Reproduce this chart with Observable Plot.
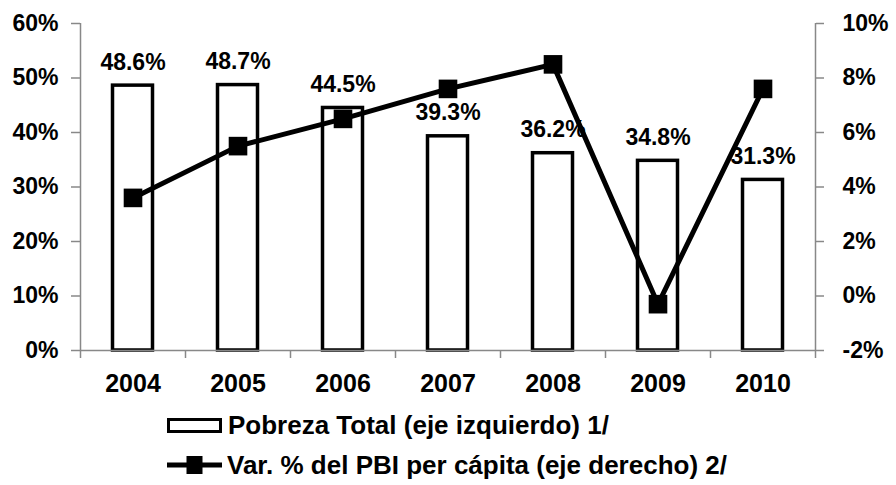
<!DOCTYPE html>
<html>
<head>
<meta charset="utf-8">
<script src="https://cdn.jsdelivr.net/npm/d3@7"></script>
<script src="https://cdn.jsdelivr.net/npm/@observablehq/plot@0.6"></script>
<style>
  html, body { margin: 0; padding: 0; background: #fff; }
  body { font-family: "Liberation Sans", Arial, sans-serif; font-weight: bold; color: #000; width: 896px; }
  #chart svg { display: block; }
  #legend { padding-left: 167px; }
  .row { height: 40px; display: flex; align-items: center; font-size: 26px; font-weight: bold; white-space: nowrap; }
  .box { display: inline-block; width: 49px; height: 9px; border: 3px solid #000; background: #fff; margin-right: 6px; }
  .sym { margin-right: 5px; display: block; }
</style>
</head>
<body>
<div id="chart"></div>
<div id="legend"></div>
<script>
// ---- data ----
const years = ["2004", "2005", "2006", "2007", "2008", "2009", "2010"];
const poverty = [48.6, 48.7, 44.5, 39.3, 36.2, 34.8, 31.3];          // % (left axis)
const gdpPerCapita = [3.6, 5.5, 6.5, 7.6, 8.5, -0.3, 7.6];           // % (right axis)
const leftTicks = [0, 10, 20, 30, 40, 50, 60];
const rightTicks = [-2, 0, 2, 4, 6, 8, 10];
const seriesNames = ["Pobreza Total (eje izquierdo) 1/", "Var. % del PBI per cápita (eje derecho) 2/"];

const rows = years.map((year, i) => ({ year, poverty: poverty[i], gdp: gdpPerCapita[i] }));

const lMin = leftTicks[0], lMax = leftTicks[leftTicks.length - 1];
const rMin = rightTicks[0], rMax = rightTicks[rightTicks.length - 1];
const toLeft = v => (v - rMin) / (rMax - rMin) * (lMax - lMin) + lMin;
const toRight = v => (v - lMin) / (lMax - lMin) * (rMax - rMin) + rMin;

const W = 896, H = 405, ML = 80, MR = 81, MT = 23, MB = 55;
const half = (W - ML - MR) / years.length / 2;
const grey = "#888";
const font = { fontFamily: "Liberation Sans, Arial, sans-serif", fontWeight: "bold" };

const chart = Plot.plot({
  width: W, height: H,
  marginLeft: ML, marginRight: MR, marginTop: MT, marginBottom: MB,
  style: { fontFamily: font.fontFamily, fontWeight: "bold", color: "#000", background: "#fff", overflow: "visible" },
  x: { domain: years, padding: 0 },
  y: { domain: [lMin, lMax] },
  marks: [
    Plot.barY(rows, { x: "year", y: "poverty", fill: "white", stroke: "black", strokeWidth: 3.5, insetLeft: 32.5, insetRight: 32.5 }),
    // axis lines
    Plot.ruleY([lMin], { stroke: grey, strokeWidth: 1.5 }),
    Plot.ruleX([years[0]], { dx: -half, y1: lMin, y2: lMax, stroke: grey, strokeWidth: 1.5 }),
    Plot.ruleX([years[years.length - 1]], { dx: half, y1: lMin, y2: lMax, stroke: grey, strokeWidth: 1.5 }),
    // category boundary ticks
    Plot.ruleX(years, { dx: -half, y1: () => lMin, y2: () => lMin, insetBottom: -8, stroke: grey, strokeWidth: 1.5 }),
    Plot.ruleX([years[years.length - 1]], { dx: half, y1: () => lMin, y2: () => lMin, insetBottom: -8, stroke: grey, strokeWidth: 1.5 }),
    Plot.axisY(leftTicks, { anchor: "left", tickFormat: d => d + "%", tickSize: 9, tickPadding: 13, stroke: grey, strokeWidth: 1.5, fill: "black", fontSize: 23, fontWeight: "bold", label: null }),
    Plot.axisY(rightTicks.map(toLeft), { anchor: "right", tickFormat: d => Math.round(toRight(d)) + "%", tickSize: 8, tickPadding: 19, stroke: grey, strokeWidth: 1.5, fill: "black", fontSize: 23, fontWeight: "bold", label: null }),
    Plot.axisX({ tickSize: 0, tickPadding: 24, fontSize: 25, fontWeight: "bold", fill: "black", label: null }),
    // value labels
    Plot.text(rows, { x: "year", y: "poverty", text: d => d.poverty.toFixed(1) + "%", dy: -16, lineAnchor: "bottom", fontSize: 23, fontWeight: "bold", fill: "black" }),
    // line on right axis
    Plot.line(rows, { x: "year", y: d => toLeft(d.gdp), stroke: "black", strokeWidth: 5 }),
    Plot.dot(rows, { x: "year", y: d => toLeft(d.gdp), symbol: "square", r: 10.5, fill: "black", stroke: "none" })
  ]
});
document.getElementById("chart").appendChild(chart);

// legend
const legend = document.getElementById("legend");
const r1 = document.createElement("div");
r1.className = "row";
r1.innerHTML = `<span class="box"></span><span></span>`;
r1.lastChild.textContent = seriesNames[0];
legend.appendChild(r1);
const r2 = document.createElement("div");
r2.className = "row";
r2.innerHTML = `<svg class="sym" width="55" height="22" viewBox="0 0 55 22"><line x1="0" y1="11" x2="55" y2="11" stroke="black" stroke-width="5" stroke-linecap="round"/><rect x="19.5" y="2" width="16" height="18" fill="black"/></svg><span></span>`;
r2.lastChild.textContent = seriesNames[1];
legend.appendChild(r2);
</script>
</body>
</html>
